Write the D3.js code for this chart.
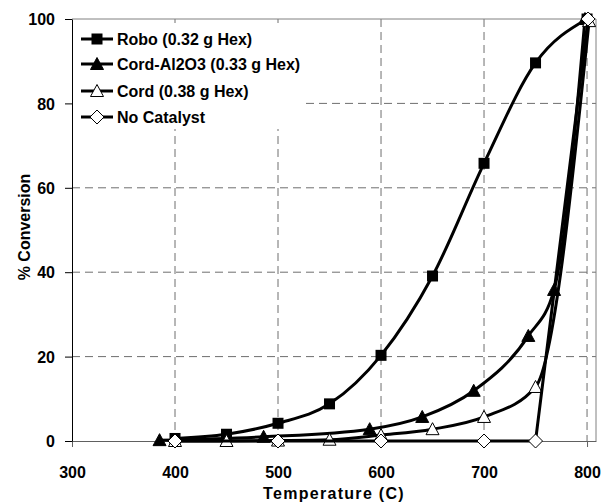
<!DOCTYPE html>
<html>
<head>
<meta charset="utf-8">
<script src="https://cdn.jsdelivr.net/npm/d3@7"></script>
<style>
  body { margin: 0; background: #fff; }
  text { font-family: "Liberation Sans", Arial, sans-serif; font-weight: bold; fill: #000; }
</style>
</head>
<body>
<script>
// data
const roboTemp = [400, 450, 500, 550, 600, 650, 700, 750, 800];
const roboConv = [0.6, 1.6, 4.2, 8.8, 20.3, 39.1, 65.8, 89.6, 100];
const alTemp = [385, 486, 589, 640, 690, 743, 768, 798];
const alConv = [0.2, 1.0, 2.8, 5.7, 11.9, 24.9, 35.8, 100];
const cordTemp = [400, 450, 500, 550, 600, 650, 700, 750, 802];
const cordConv = [0, 0, 0.1, 0.3, 1.4, 2.8, 5.7, 12.8, 99.5];
const noneTemp = [400, 500, 600, 700, 750, 801];
const noneConv = [0, 0, 0, 0, 0, 100];
const xTicks = [300, 400, 500, 600, 700, 800];
const yTicks = [0, 20, 40, 60, 80, 100];
const names = ["Robo (0.32 g Hex)", "Cord-Al2O3 (0.33 g Hex)", "Cord (0.38 g Hex)", "No Catalyst"];

const svgWidth = 601, svgHeight = 503;
const plot = { left: 72, right: 596, top: 19, bottom: 441 };

const svg = d3.select('body').append('svg')
  .attr('width', svgWidth)
  .attr('height', svgHeight);

const x = d3.scaleLinear().domain([300, 808.7]).range([plot.left, plot.right]);
const y = d3.scaleLinear().domain([0, 100]).range([plot.bottom, plot.top]);

/*
 * grid + frame
 */
const grid = svg.append('g');
grid.selectAll('line.v').data(xTicks.slice(1)).enter().append('line')
  .attr('x1', d => x(d)).attr('x2', d => x(d))
  .attr('y1', plot.top).attr('y2', plot.bottom)
  .attr('stroke', '#6e6e6e').attr('stroke-dasharray', '8,5');
grid.selectAll('line.h').data(yTicks.slice(1, -1)).enter().append('line')
  .attr('x1', plot.left).attr('x2', plot.right)
  .attr('y1', d => y(d)).attr('y2', d => y(d))
  .attr('stroke', '#6e6e6e').attr('stroke-dasharray', '8,5');

// legend background hides the grid behind it
svg.append('rect')
  .attr('x', plot.left + 1).attr('y', 23)
  .attr('width', 231).attr('height', 106)
  .attr('fill', '#fff');

svg.append('line')
  .attr('x1', plot.left).attr('x2', plot.right)
  .attr('y1', plot.top).attr('y2', plot.top)
  .attr('stroke', '#808080');
svg.append('line')
  .attr('x1', plot.right).attr('x2', plot.right)
  .attr('y1', plot.top).attr('y2', plot.bottom)
  .attr('stroke', '#808080');

/*
 * axes
 */
const xAxis = svg.append('g')
  .attr('transform', `translate(0,${plot.bottom})`)
  .call(d3.axisBottom(x).tickValues(xTicks).tickSize(6).tickSizeOuter(0));
xAxis.select('.domain').attr('stroke', '#606060');
xAxis.selectAll('.tick line').attr('stroke', '#606060');
xAxis.selectAll('text')
  .attr('y', 37).attr('dy', null)
  .style('font-size', '16px');

const yAxis = svg.append('g')
  .attr('transform', `translate(${plot.left},0)`)
  .call(d3.axisLeft(y).tickValues(yTicks).tickSize(7).tickSizeOuter(0));
yAxis.select('.domain').attr('stroke', '#000');
yAxis.selectAll('text')
  .attr('x', -17).attr('dy', '0.35em')
  .style('font-size', '16px');
svg.selectAll('.tick text').attr('font-family', null);

svg.append('text')
  .attr('x', (plot.left + plot.right) / 2).attr('y', 499)
  .attr('text-anchor', 'middle')
  .style('font-size', '16px').style('letter-spacing', '1.3px')
  .text('Temperature (C)');

svg.append('text')
  .attr('transform', `translate(30,${(plot.top + plot.bottom) / 2 - 3}) rotate(-90)`)
  .attr('text-anchor', 'middle')
  .style('font-size', '16px')
  .text('% Conversion');

/*
 * markers
 */
function marker(sel, type) {
  if (type === 'square') {
    sel.append('rect').attr('x', -5.5).attr('y', -5.5).attr('width', 11).attr('height', 11)
      .attr('fill', '#000');
  } else if (type === 'tri' || type === 'openTri') {
    sel.append('path').attr('d', 'M0,-6.5L6.5,5.5L-6.5,5.5Z')
      .attr('fill', type === 'tri' ? '#000' : '#fff')
      .attr('stroke', '#000').attr('stroke-width', 1);
  } else {
    sel.append('path').attr('d', 'M0,-7L7,0L0,7L-7,0Z')
      .attr('fill', '#fff').attr('stroke', '#000').attr('stroke-width', 1);
  }
}

const series = [
  { temp: roboTemp, conv: roboConv, type: 'square', smooth: true },
  { temp: alTemp, conv: alConv, type: 'tri', smooth: true },
  { temp: cordTemp, conv: cordConv, type: 'openTri', smooth: true },
  { temp: noneTemp, conv: noneConv, type: 'diamond', smooth: false }
];

const dataContainer = svg.append('g');
series.forEach(s => {
  const pts = s.temp.map((t, i) => [t, s.conv[i]]);
  const line = d3.line()
    .x(d => x(d[0])).y(d => y(d[1]))
    .curve(s.smooth ? d3.curveMonotoneX : d3.curveLinear);
  dataContainer.append('path')
    .attr('d', line(pts))
    .attr('fill', 'none').attr('stroke', '#000').attr('stroke-width', 3);
  dataContainer.selectAll(null).data(pts).enter().append('g')
    .attr('transform', d => `translate(${x(d[0])},${y(d[1])})`)
    .each(function () { marker(d3.select(this), s.type); });
});

/*
 * legend
 */
const legend = svg.append('g');
const legendY = [39, 64, 91, 117];
series.forEach((s, i) => {
  legend.append('line')
    .attr('x1', 81).attr('x2', 113)
    .attr('y1', legendY[i]).attr('y2', legendY[i])
    .attr('stroke', '#000').attr('stroke-width', 3);
  marker(legend.append('g').attr('transform', `translate(97,${legendY[i]})`), s.type);
  legend.append('text')
    .attr('x', 117).attr('y', legendY[i] + 6)
    .style('font-size', '16px')
    .text(names[i]);
});
</script>
</body>
</html>
